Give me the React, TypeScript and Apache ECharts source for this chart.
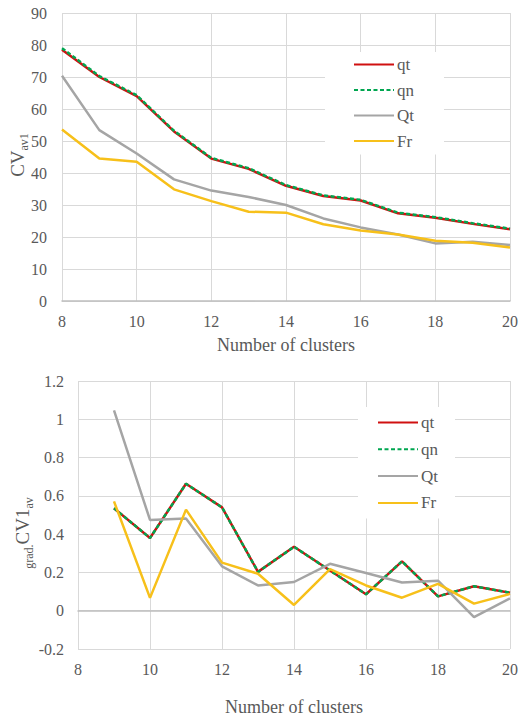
import React, { useEffect, useRef } from "react";
import * as echarts from "echarts";

// Average coefficient of variation by number of clusters
const clustersCV = [8, 9, 10, 11, 12, 13, 14, 15, 16, 17, 18, 19, 20];
const qtCV = [78.5, 70, 64, 53, 44.5, 41.3, 36, 32.8, 31.4, 27.4, 26, 24.1, 22.4];
const qnCV = [79, 70.3, 64.3, 53.2, 44.7, 41.5, 36.2, 33, 31.6, 27.6, 26.2, 24.3, 22.6];
const QtCV = [70.4, 53.4, 46.1, 38, 34.5, 32.5, 30, 25.8, 23, 20.8, 18, 18.5, 17.5];
const FrCV = [53.6, 44.5, 43.5, 34.9, 31.2, 27.9, 27.6, 24, 22, 20.8, 18.8, 18.2, 16.7];

// Gradient of the average coefficient of variation
const clustersGrad = [9, 10, 11, 12, 13, 14, 15, 16, 17, 18, 19, 20];
const qtGrad = [0.535, 0.38, 0.663, 0.54, 0.203, 0.334, 0.21, 0.086, 0.258, 0.075, 0.128, 0.094];
const qnGrad = [0.535, 0.38, 0.663, 0.54, 0.203, 0.334, 0.21, 0.086, 0.258, 0.075, 0.128, 0.094];
const QtGrad = [1.047, 0.474, 0.482, 0.232, 0.132, 0.15, 0.245, 0.197, 0.147, 0.157, -0.033, 0.065];
const FrGrad = [0.571, 0.067, 0.528, 0.251, 0.193, 0.03, 0.217, 0.132, 0.068, 0.14, 0.037, 0.088];

const seriesNames = ["qt", "qn", "Qt", "Fr"];

const FONT = "Liberation Serif";
const TEXT = "#595959";
const GRID = "#d9d9d9";
const AXIS = "#bfbfbf";
const RED = "#d01010";
const GREEN = "#00a650";
const GREY = "#a5a5a5";
const GOLD = "#f7c01a";

const serifRich = (size: number) => ({
  t: { fontFamily: FONT, fontSize: size, color: TEXT },
});

const pairs = (xs: number[], ys: number[]) => xs.map((x, i) => [x, ys[i]]);

const lineSeries = (name: string, idx: number, xs: number[], ys: number[], color: string, dashed = false) => ({
  name,
  type: "line",
  xAxisIndex: idx,
  yAxisIndex: idx,
  data: pairs(xs, ys),
  symbol: "none",
  lineStyle: { color, width: 2.5, type: dashed ? [4, 2.5] : "solid" },
  itemStyle: { color },
});

const tickLabel = (margin: number) => ({
  color: TEXT,
  fontFamily: FONT,
  fontSize: 16,
  margin,
  formatter: (v: number) => `{t|${v}}`,
  rich: serifRich(16),
});

const xAxisBase = (gridIndex: number, nameGap: number) => ({
  type: "value",
  gridIndex,
  min: 8,
  max: 20,
  interval: 2,
  name: "Number of clusters",
  nameLocation: "middle",
  nameGap,
  nameTextStyle: { color: TEXT, fontFamily: FONT, fontSize: 18 },
  axisLine: { show: true, onZero: true, lineStyle: { color: AXIS, width: 1.5 } },
  axisTick: { show: false },
  axisLabel: tickLabel(12),
  splitLine: { show: true, lineStyle: { color: GRID, width: 1 } },
});

const yAxisBase = (gridIndex: number, min: number, max: number, interval: number, margin: number) => ({
  type: "value",
  gridIndex,
  min,
  max,
  interval,
  axisLine: { show: false },
  axisTick: { show: false },
  axisLabel: tickLabel(margin),
  splitLine: { show: true, lineStyle: { color: GRID, width: 1 } },
});

const legendBase = {
  orient: "vertical",
  backgroundColor: "#ffffff",
  itemWidth: 40,
  itemHeight: 14,
  // the line series carry no point symbols, so the key shows only the stroke
  itemStyle: { opacity: 0 },
  formatter: (name: string) => `{t|${name}}`,
  textStyle: {
    color: TEXT,
    fontFamily: FONT,
    fontSize: 17,
    padding: [0, 0, 0, -2],
    rich: serifRich(17),
  },
  data: seriesNames,
  selectedMode: false,
};

export default function App() {
  const ref = useRef<HTMLDivElement>(null);

  useEffect(() => {
    if (!ref.current) return;
    const chart = echarts.init(ref.current, undefined, { renderer: "svg" });
    chart.setOption({
      animation: false,
      backgroundColor: "#ffffff",
      textStyle: { fontFamily: FONT },
      grid: [
        { left: 62, top: 13, width: 451, height: 288 },
        { left: 78, top: 381, width: 435, height: 311 },
      ],
      xAxis: [xAxisBase(0, 35), xAxisBase(1, 49)],
      yAxis: [yAxisBase(0, 0, 90, 10, 15), yAxisBase(1, -0.2, 1.2, 0.2, 14)],
      legend: [
        { ...legendBase, left: 325, top: 52, padding: [4, 30, 5, 28], itemGap: 8.5 },
        { ...legendBase, left: 358, top: 407, padding: [7, 17, 7, 19], itemGap: 9.8 },
      ],
      graphic: [
        {
          type: "text",
          x: 19,
          y: 155,
          rotation: Math.PI / 2,
          style: {
            text: "{a|CV}{b|av1}",
            align: "center",
            verticalAlign: "middle",
            fill: TEXT,
            rich: {
              a: { fontFamily: FONT, fontSize: 19, fill: TEXT, padding: [0, 0, 3, 0] },
              b: { fontFamily: FONT, fontSize: 12, fill: TEXT, verticalAlign: "bottom" },
            },
          },
        },
        {
          type: "text",
          x: 24,
          y: 533,
          rotation: Math.PI / 2,
          style: {
            text: "{b|grad.}{a|CV1}{b|av}",
            align: "center",
            verticalAlign: "middle",
            fill: TEXT,
            rich: {
              a: { fontFamily: FONT, fontSize: 19, fill: TEXT, padding: [0, 0, 3, 0] },
              b: { fontFamily: FONT, fontSize: 12, fill: TEXT, verticalAlign: "bottom" },
            },
          },
        },
      ],
      series: [
        lineSeries("qt", 0, clustersCV, qtCV, RED),
        lineSeries("qn", 0, clustersCV, qnCV, GREEN, true),
        lineSeries("Qt", 0, clustersCV, QtCV, GREY),
        lineSeries("Fr", 0, clustersCV, FrCV, GOLD),
        lineSeries("qt", 1, clustersGrad, qtGrad, RED),
        lineSeries("qn", 1, clustersGrad, qnGrad, GREEN, true),
        lineSeries("Qt", 1, clustersGrad, QtGrad, GREY),
        lineSeries("Fr", 1, clustersGrad, FrGrad, GOLD),
      ],
    });
    return () => chart.dispose();
  }, []);

  return (
    <div
      ref={ref}
      style={{ position: "absolute", left: 0, top: 0, width: 521, height: 717, background: "#fff" }}
    />
  );
}
